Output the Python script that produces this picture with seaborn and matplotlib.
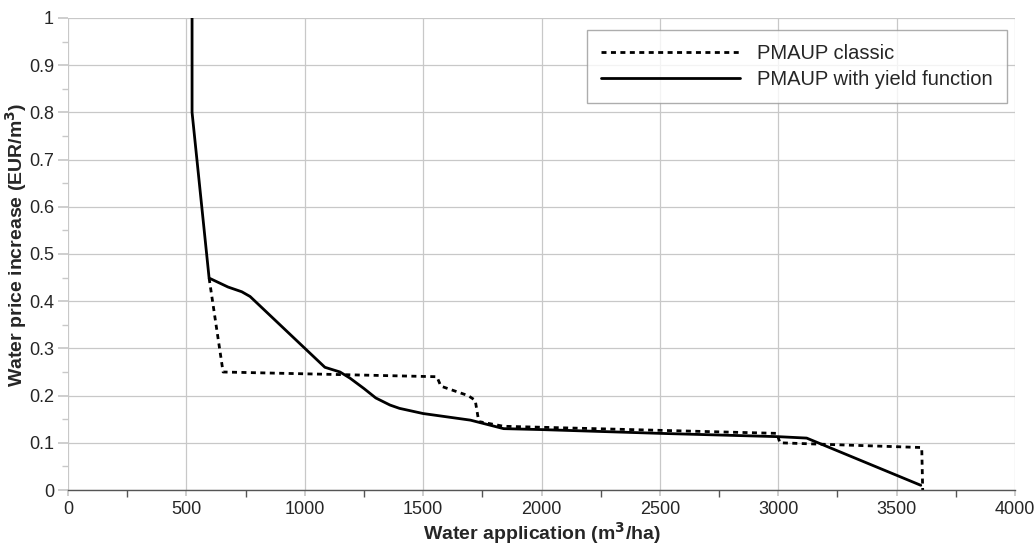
import numpy as np
import pandas as pd
import matplotlib
matplotlib.use("Agg")
import matplotlib.pyplot as plt
from matplotlib.ticker import MultipleLocator
import seaborn as sns

# PMAUP classic (dashed)
classic_x = [596, 655, 1558, 1575, 1690, 1720, 1735, 1840, 2994, 3007, 3302, 3606, 3610]
classic_y = [0.449, 0.25, 0.24, 0.22, 0.20, 0.19, 0.145, 0.135, 0.12, 0.10, 0.095, 0.09, 0.0]

# PMAUP with yield function (solid)
yield_x = [524, 524, 596, 676, 734, 769, 1085, 1149, 1191, 1250, 1300, 1360, 1400,
           1500, 1600, 1700, 1840, 2000, 2500, 3000, 3120, 3602]
yield_y = [1.0, 0.8, 0.449, 0.43, 0.42, 0.41, 0.26, 0.25, 0.237, 0.215, 0.195, 0.18, 0.173,
           0.162, 0.155, 0.148, 0.13, 0.128, 0.12, 0.113, 0.11, 0.01]

series_names = ["PMAUP classic", "PMAUP with yield function"]

df_classic = pd.DataFrame({"x": classic_x, "y": classic_y})
df_yield = pd.DataFrame({"x": yield_x, "y": yield_y})

sns.set_theme(style="whitegrid")
plt.rcParams['font.family'] = ['Liberation Sans', 'DejaVu Sans']

fig = plt.figure(figsize=(10.35, 5.45), dpi=100)
ax = fig.add_axes([0.0657, 0.1009, 0.915, 0.8661])

sns.lineplot(data=df_classic, x="x", y="y", sort=False, estimator=None, ax=ax,
             color="black", linewidth=2, linestyle=(0, (1.8, 1.6)), label=series_names[0])
sns.lineplot(data=df_yield, x="x", y="y", sort=False, estimator=None, ax=ax,
             color="black", linewidth=2, label=series_names[1])

ax.set_xlim(0, 4000)
ax.set_ylim(0, 1)
ax.xaxis.set_major_locator(MultipleLocator(500))
ax.xaxis.set_minor_locator(MultipleLocator(250))
ax.yaxis.set_major_locator(MultipleLocator(0.1))
ax.yaxis.set_minor_locator(MultipleLocator(0.05))
ax.yaxis.set_major_formatter(matplotlib.ticker.FuncFormatter(lambda v, p: f"{v:g}"))

ax.grid(True, which="major", color="#c8c8c8", linewidth=0.9)
ax.grid(False, which="minor")
for s in ["top", "right", "left"]:
    ax.spines[s].set_visible(False)
ax.spines["bottom"].set_color("#555555")
ax.spines["bottom"].set_linewidth(1.0)

ax.tick_params(axis="x", which="major", length=4, color="#c8c8c8", labelsize=13, pad=4, bottom=True)
ax.tick_params(axis="x", which="minor", length=5, color="#555555", bottom=True, direction="out")
ax.tick_params(axis="y", which="major", length=7, color="#c8c8c8", labelsize=13, pad=3, left=True)
ax.tick_params(axis="y", which="minor", length=4, color="#c8c8c8", left=True)

ax.set_xlabel(r"Water application (m$^{\mathbf{3}}$/ha)", fontsize=14, fontweight="bold")
ax.set_ylabel(r"Water price increase (EUR/m$^{\mathbf{3}}$)", fontsize=14, fontweight="bold")
ax.xaxis.set_label_coords(0.5, -0.064)
ax.yaxis.set_label_coords(-0.041, 0.52)

leg = ax.legend(loc="upper right", bbox_to_anchor=(0.9916, 0.9746), fontsize=14.5, frameon=True,
                fancybox=False, handlelength=6.9, borderpad=0.7, labelspacing=0.35,
                handletextpad=0.85, borderaxespad=0)
leg.get_frame().set_edgecolor("#999999")
leg.get_frame().set_linewidth(1.0)

fig.savefig("out.png", dpi=100)
